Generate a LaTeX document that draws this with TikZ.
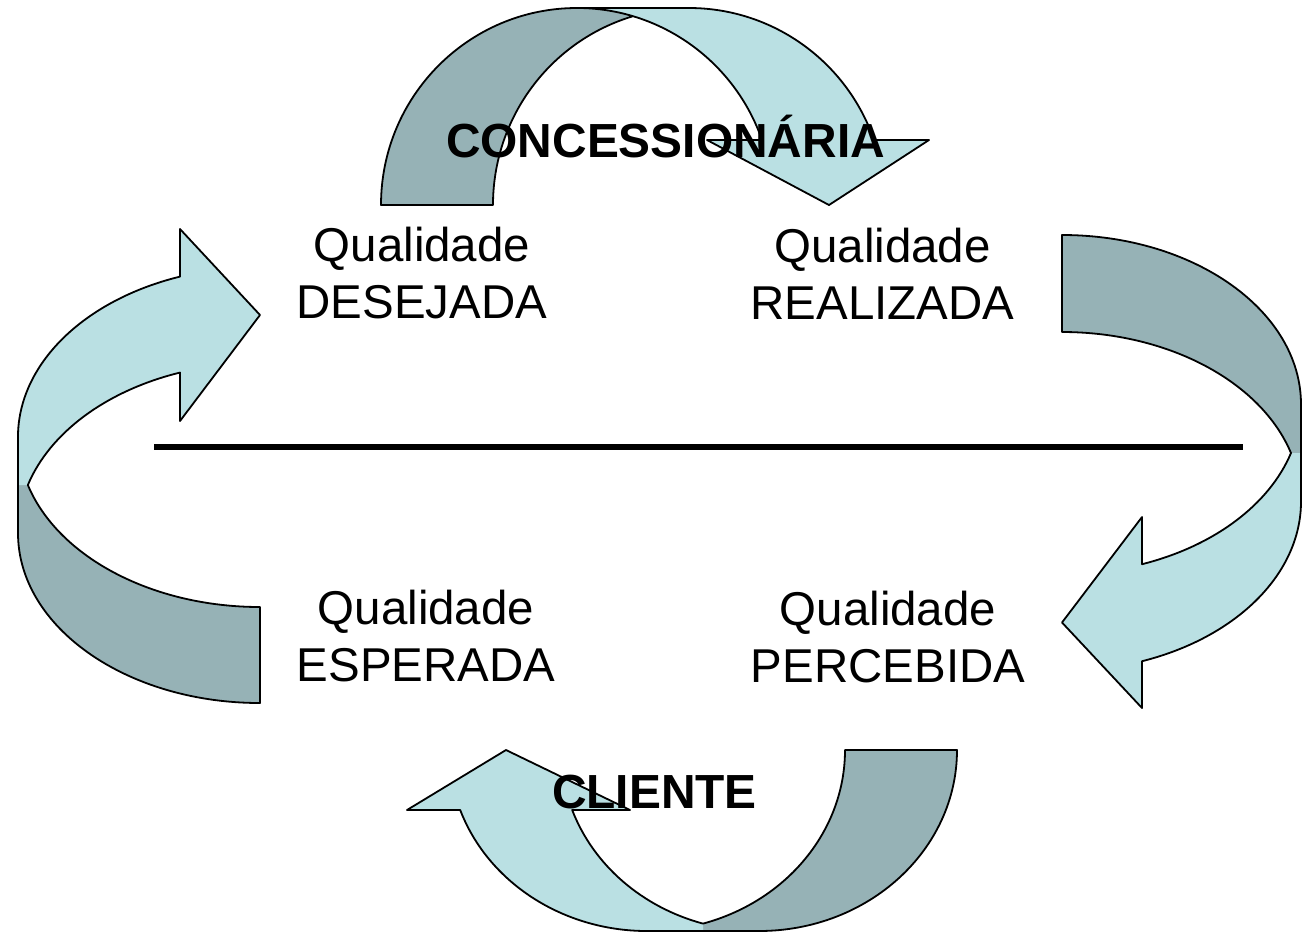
\documentclass[tikz,border=0pt]{standalone}
\usepackage{fontspec}
\setmainfont{Liberation Sans}
\usepackage{tikz}
\usepackage{xcolor}

\definecolor{arrdark}{RGB}{150,178,182}
\definecolor{arrlight}{RGB}{186,224,227}

\tikzset{
  back/.style={fill=arrdark},
  front/.style={fill=arrlight},
  rim/.style={draw=black,line width=1.35pt,line join=round},
  lbl/.style={inner sep=0pt,align=center,font=\fontsize{35.6}{42.75}\selectfont},
  hdr/.style={inner sep=0pt,anchor=base,font=\fontsize{35.9}{42.75}\selectfont\bfseries},
  topr/.style={x radius=196,y radius=197},
  botr/.style={x radius=198,y radius=181},
  lftr/.style={x radius=242,y radius=170},
  rgtr/.style={x radius=239,y radius=169.5},
}

\begin{document}
\begin{tikzpicture}[x=0.75pt,y=0.75pt,yscale=-1,xscale=1]
\useasboundingbox (0,0) rectangle (1302,933);

%Straight Lines [id:divider]
\draw [line width=4.3pt] (154,447) -- (1243,447) ;

%Shape: Curved Down Arrow [id:top]
\fill [back] (381,205) arc[topr,start angle=-180,end angle=-73.4] arc[topr,start angle=-106.6,end angle=-180] -- cycle ;
\fill [front] (577,8) -- (689,8) arc[topr,start angle=-90,end angle=-19.26] -- (929,140) -- (829,205) -- (707,140) -- (762,140) arc[topr,start angle=-19.26,end angle=-90] -- cycle ;
\draw [rim] (633,16.2) arc[topr,start angle=-106.6,end angle=-180] -- (381,205) arc[topr,start angle=-180,end angle=-90] -- (689,8) arc[topr,start angle=-90,end angle=-19.26] -- (929,140) -- (829,205) -- (707,140) -- (762,140) arc[topr,start angle=-19.26,end angle=-90] ;

%Shape: Curved Left Arrow [id:right]
\fill [back] (1062,235) arc[rgtr,start angle=-90,end angle=0] -- (1301,501.5) arc[rgtr,start angle=0,end angle=-90] -- cycle ;
\fill [front] (1142,661.2) arc[rgtr,start angle=70.44,end angle=0] -- (1301,453) -- (1291,453) arc[rgtr,start angle=16.63,end angle=70.44] -- (1142,517) -- (1062,622.5) -- (1142,708) -- cycle ;
\draw [rim] (1062,235) arc[rgtr,start angle=-90,end angle=0] -- (1301,501.5) arc[rgtr,start angle=0,end angle=70.44] -- (1142,708) -- (1062,622.5) -- (1142,517) -- (1142,564.2) arc[rgtr,start angle=70.44,end angle=16.63] arc[rgtr,start angle=-16.63,end angle=-90] -- cycle ;

%Shape: Curved Up Arrow [id:bottom]
\fill [back] (957,750) arc[botr,start angle=0,end angle=90] -- (647,931) arc[botr,start angle=90,end angle=0] -- cycle ;
\fill [front] (460.2,810) arc[botr,start angle=160.64,end angle=90] -- (703,931) -- (703,923.6) arc[botr,start angle=106.43,end angle=160.64] -- (630,810) -- (506,750) -- (407,810) -- cycle ;
\draw [rim] (460.2,810) arc[botr,start angle=160.64,end angle=90] -- (759,931) arc[botr,start angle=90,end angle=0] -- (845,750) arc[botr,start angle=0,end angle=73.57] arc[botr,start angle=106.43,end angle=160.64] -- (630,810) -- (506,750) -- (407,810) -- cycle ;

%Shape: Curved Right Arrow [id:left]
\fill [back] (260,703) arc[lftr,start angle=90,end angle=180] -- (18,437) arc[lftr,start angle=180,end angle=90] -- cycle ;
\fill [front] (180,276.6) arc[lftr,start angle=250.7,end angle=180] -- (18,485) -- (27.8,485) arc[lftr,start angle=196.4,end angle=250.7] -- (180,421) -- (260,315) -- (180,229) -- cycle ;
\draw [rim] (180,276.6) arc[lftr,start angle=250.7,end angle=180] -- (18,533) arc[lftr,start angle=180,end angle=90] -- (260,607) arc[lftr,start angle=90,end angle=163.6] arc[lftr,start angle=196.4,end angle=250.7] -- (180,421) -- (260,315) -- (180,229) -- cycle ;

% Text Node
\node [lbl] (des) at (422,273.5) {Qualidade\\DESEJADA};
% Text Node
\node [lbl] (rea) at (882.5,273.5) {Qualidade\\REALIZADA};
% Text Node
\node [lbl] (esp) at (426,636.5) {Qualidade\\ESPERADA};
% Text Node
\node [lbl] (per) at (888,637) {Qualidade\\PERCEBIDA};
% Text Node
\node [hdr] (conc) at (665.5,157) {CONCESSIONÁRIA};
% Text Node
\node [hdr] (cli) at (654.5,808) {CLIENTE};

\end{tikzpicture}
\end{document}
